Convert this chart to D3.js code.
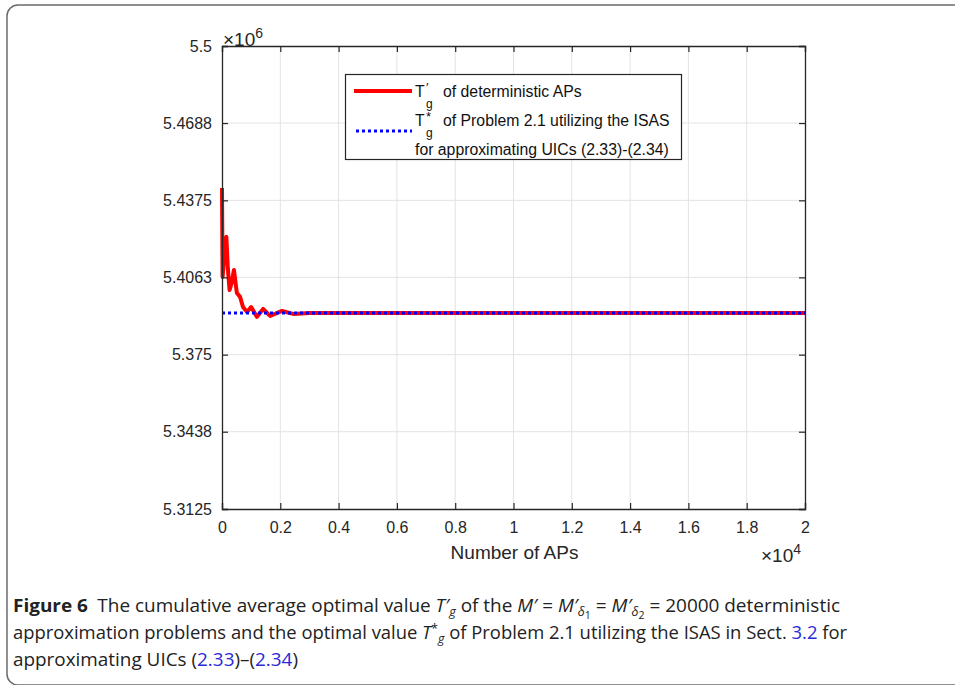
<!DOCTYPE html>
<html>
<head>
<meta charset="utf-8">
<script src="https://cdn.jsdelivr.net/npm/d3@7"></script>
<style>
  body { margin: 0; background: #fff; }
  svg { display: block; }
</style>
</head>
<body>
<div id="chart"></div>
<script>
// cumulative average T'_g (N, value in units of 1e6)
const apCounts = [0, 20, 80, 150, 200, 260, 330, 410, 510, 620, 720, 860, 1000, 1200, 1410, 1650, 2060, 2440, 3000, 20000];
const apValues = [5.4425, 5.4065, 5.4150, 5.4227, 5.4100, 5.4012, 5.4040, 5.4093, 5.4000, 5.3984, 5.3943, 5.3923, 5.3943, 5.3903, 5.3935, 5.3907, 5.3927, 5.3915, 5.3919, 5.3919];
// optimal value T*_g of Problem 2.1 (constant)
const isasValue = 5.3919;
const isasRange = [0, 20000];

const yTicks = [5.3125, 5.3438, 5.375, 5.4063, 5.4375, 5.4688, 5.5];
const yTickLabels = ["5.3125", "5.3438", "5.375", "5.4063", "5.4375", "5.4688", "5.5"];
const xTicks = [0, 2000, 4000, 6000, 8000, 10000, 12000, 14000, 16000, 18000, 20000];
const xTickLabels = ["0", "0.2", "0.4", "0.6", "0.8", "1", "1.2", "1.4", "1.6", "1.8", "2"];

const W = 955, H = 685;
const plot = { left: 222, right: 805, top: 46, bottom: 509 };
const axisColor = "#262626";
const font = "'Liberation Sans', Arial, Helvetica, sans-serif";

const svg = d3.select("#chart").append("svg")
  .attr("width", W).attr("height", H);

// outer figure frame
svg.append("rect")
  .attr("x", 7).attr("y", 5)
  .attr("width", 970).attr("height", 680)
  .attr("rx", 11)
  .attr("fill", "none")
  .attr("stroke", "#6b6b6b")
  .attr("stroke-width", 1.5);

const x = d3.scaleLinear().domain([0, 20000]).range([plot.left, plot.right]);
const y = d3.scaleLinear().domain([5.3125, 5.5]).range([plot.bottom, plot.top]);

// grid
const grid = svg.append("g").attr("class", "grid");
grid.selectAll(".gx").data(xTicks.slice(1, -1)).join("line")
  .attr("x1", d => x(d)).attr("x2", d => x(d))
  .attr("y1", plot.top).attr("y2", plot.bottom)
  .attr("stroke", "#e3e3e3").attr("stroke-width", 1);
grid.selectAll(".gy").data(yTicks.slice(1, -1)).join("line")
  .attr("class", "gy")
  .attr("x1", plot.left).attr("x2", plot.right)
  .attr("y1", d => y(d)).attr("y2", d => y(d))
  .attr("stroke", "#e3e3e3").attr("stroke-width", 1);

// data lines
const line = d3.line().x(d => x(d[0])).y(d => y(d[1]));
svg.append("path")
  .datum(apCounts.map((n, i) => [n, apValues[i]]))
  .attr("d", line)
  .attr("fill", "none")
  .attr("stroke", "#ff0000")
  .attr("stroke-width", 4)
  .attr("stroke-linejoin", "round");

svg.append("path")
  .datum(isasRange.map(n => [n, isasValue]))
  .attr("d", line)
  .attr("fill", "none")
  .attr("stroke", "#0000ff")
  .attr("stroke-width", 3)
  .attr("stroke-dasharray", "3,3");

// axes (MATLAB-like: ticks inside, box all round)
const xAxis = d3.axisBottom(x).tickValues(xTicks).tickSize(-6).tickPadding(10)
  .tickFormat((d, i) => xTickLabels[i]);
const yAxis = d3.axisLeft(y).tickValues(yTicks).tickSize(-6).tickPadding(10)
  .tickFormat((d, i) => yTickLabels[i]);

const gx = svg.append("g").attr("transform", `translate(0,${plot.bottom})`).call(xAxis);
const gy = svg.append("g").attr("transform", `translate(${plot.left},0)`).call(yAxis);
const gxTop = svg.append("g").attr("transform", `translate(0,${plot.top})`)
  .call(d3.axisTop(x).tickValues(xTicks).tickSize(-6).tickFormat(""));
const gyRight = svg.append("g").attr("transform", `translate(${plot.right},0)`)
  .call(d3.axisRight(y).tickValues(yTicks).tickSize(-6).tickFormat(""));

[gx, gy, gxTop, gyRight].forEach(g => {
  g.attr("font-size", null).attr("font-family", null);
  g.select(".domain").attr("stroke", axisColor).attr("stroke-width", 1.3);
  g.selectAll(".tick line").attr("stroke", axisColor).attr("stroke-width", 1.2);
  g.selectAll(".tick text").attr("fill", axisColor)
    .style("font-family", font).style("font-size", "16px");
});
gx.selectAll(".tick text").attr("dy", "0.85em");

// exponent labels
const exp6 = svg.append("text").attr("x", 223).attr("y", 46)
  .attr("fill", axisColor).style("font-family", font).style("font-size", "19px");
exp6.append("tspan").text("\u00d710");
exp6.append("tspan").attr("dy", -8).style("font-size", "14px").text("6");

const exp4 = svg.append("text").attr("x", 761).attr("y", 562)
  .attr("fill", axisColor).style("font-family", font).style("font-size", "19px");
exp4.append("tspan").text("\u00d710");
exp4.append("tspan").attr("dy", -8).style("font-size", "14px").text("4");

// axis title
svg.append("text")
  .attr("x", (plot.left + plot.right) / 2 + 1).attr("y", 559)
  .attr("text-anchor", "middle")
  .attr("fill", axisColor)
  .style("font-family", font).style("font-size", "19px")
  .text("Number of APs");

// legend
const lg = svg.append("g").style("font-family", font).style("font-size", "15.8px");
lg.append("rect")
  .attr("x", 345.5).attr("y", 74.5).attr("width", 336).attr("height", 85)
  .attr("fill", "#fff").attr("stroke", axisColor).attr("stroke-width", 1.2);
lg.append("line").attr("x1", 354).attr("x2", 412).attr("y1", 91).attr("y2", 91)
  .attr("stroke", "#ff0000").attr("stroke-width", 4);
lg.append("line").attr("x1", 356).attr("x2", 412).attr("y1", 131).attr("y2", 131)
  .attr("stroke", "#0000ff").attr("stroke-width", 3).attr("stroke-dasharray", "3,3");

function sym(xp, base, sup) {
  lg.append("text").attr("x", xp).attr("y", base).attr("fill", "#111").text("T");
  lg.append("text").attr("x", xp + 11).attr("y", base - 5).attr("fill", "#111")
    .style("font-size", "13px").text(sup);
  lg.append("text").attr("x", xp + 11).attr("y", base + 11).attr("fill", "#111")
    .style("font-size", "12px").text("g");
}
sym(415, 97, "\u2032");
lg.append("text").attr("x", 443).attr("y", 97).attr("fill", "#111").text("of deterministic APs");
sym(415, 126, "*");
lg.append("text").attr("x", 443).attr("y", 126).attr("fill", "#111")
  .text("of Problem 2.1 utilizing the ISAS");
lg.append("text").attr("x", 415).attr("y", 155).attr("fill", "#111")
  .text("for approximating UICs (2.33)-(2.34)");

// caption
const capFont = "'Open Sans', 'Noto Sans', sans-serif";
const cap = svg.append("g").style("font-family", capFont).style("font-size", "18px").attr("fill", "#222");
const link = "#2a2ad8";

const l1 = cap.append("text").attr("x", 13).attr("y", 612)
  .attr("textLength", 827).attr("lengthAdjust", "spacingAndGlyphs");
l1.append("tspan").style("font-weight", "bold").text("Figure 6");
l1.append("tspan").text("\u2002The cumulative average optimal value ");
l1.append("tspan").style("font-style", "italic").text("T\u2032");
l1.append("tspan").style("font-style", "italic").style("font-size", "12px").attr("dy", 4).text("g");
l1.append("tspan").attr("dy", -4).text(" of the ");
l1.append("tspan").style("font-style", "italic").text("M\u2032");
l1.append("tspan").text(" = ");
l1.append("tspan").style("font-style", "italic").text("M\u2032");
l1.append("tspan").style("font-style", "italic").style("font-size", "12px").attr("dy", 4).text("\u03b4");
l1.append("tspan").style("font-size", "10px").attr("dy", 3).text("1");
l1.append("tspan").attr("dy", -7).text(" = ");
l1.append("tspan").style("font-style", "italic").text("M\u2032");
l1.append("tspan").style("font-style", "italic").style("font-size", "12px").attr("dy", 4).text("\u03b4");
l1.append("tspan").style("font-size", "10px").attr("dy", 3).text("2");
l1.append("tspan").attr("dy", -7).text(" = 20000 deterministic");

const l2 = cap.append("text").attr("x", 13).attr("y", 639)
  .attr("textLength", 834).attr("lengthAdjust", "spacingAndGlyphs");
l2.append("tspan").text("approximation problems and the optimal value ");
l2.append("tspan").style("font-style", "italic").text("T");
l2.append("tspan").style("font-size", "12px").attr("dy", -6).text("*");
l2.append("tspan").style("font-style", "italic").style("font-size", "12px").attr("dy", 10).text("g");
l2.append("tspan").attr("dy", -4).text(" of Problem 2.1 utilizing the ISAS in Sect. ");
l2.append("tspan").attr("fill", link).text("3.2");
l2.append("tspan").text(" for");

const l3 = cap.append("text").attr("x", 13).attr("y", 666)
  .attr("textLength", 285).attr("lengthAdjust", "spacingAndGlyphs");
l3.append("tspan").text("approximating UICs (");
l3.append("tspan").attr("fill", link).text("2.33");
l3.append("tspan").text(")\u2013(");
l3.append("tspan").attr("fill", link).text("2.34");
l3.append("tspan").text(")");
</script>
</body>
</html>
